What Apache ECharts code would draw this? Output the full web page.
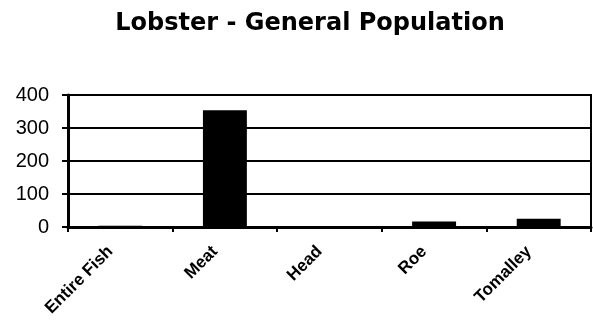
<!DOCTYPE html>
<html>
<head>
<meta charset="utf-8">
<script src="https://cdn.jsdelivr.net/npm/echarts@6/dist/echarts.min.js"></script>
<style>
  html, body { margin: 0; padding: 0; background: #fff; }
  #chart { width: 593px; height: 322px; }
</style>
</head>
<body>
<div id="chart"></div>
<script>
// Lobster consumption, general population, by tissue
const categories = ['Entire Fish', 'Meat', 'Head', 'Roe', 'Tomalley'];
const values = [4, 354, 3, 17, 25];
const yTicks = [0, 100, 200, 300, 400];

const chart = echarts.init(document.getElementById('chart'));
chart.setOption({
  animation: false,
  backgroundColor: '#ffffff',
  title: {
    text: 'Lobster - General Population',
    left: 305,
    textAlign: 'center',
    top: 7,
    textStyle: { fontFamily: 'DejaVu Sans', fontWeight: 'bold', fontSize: 24, color: '#000' }
  },
  grid: {
    left: 68, right: 2, top: 95, bottom: 95,
    show: true, borderColor: '#000', borderWidth: 2, backgroundColor: 'transparent'
  },
  xAxis: {
    type: 'category',
    data: categories,
    boundaryGap: true,
    axisLine: { lineStyle: { color: '#000', width: 3 } },
    axisTick: { show: true, alignWithLabel: false, length: 5, lineStyle: { color: '#000', width: 2 } },
    axisLabel: {
      rotate: 45, interval: 0, margin: 12,
      padding: [0, 14, 0, 0],
      fontFamily: 'Liberation Sans, Arial', fontWeight: 'bold', fontSize: 17, color: '#000'
    }
  },
  yAxis: {
    type: 'value',
    min: yTicks[0], max: yTicks[yTicks.length - 1], interval: 100,
    axisLine: { show: true, lineStyle: { color: '#000', width: 3 } },
    axisTick: { show: true, length: 6, lineStyle: { color: '#000', width: 2 } },
    splitLine: { lineStyle: { color: '#000', width: 2 } },
    axisLabel: { fontFamily: 'Liberation Sans, Arial', fontSize: 20, color: '#000', margin: 19 }
  },
  series: [{
    type: 'bar',
    data: values,
    barWidth: '42%',
    itemStyle: { color: '#000' }
  }]
});
</script>
</body>
</html>
